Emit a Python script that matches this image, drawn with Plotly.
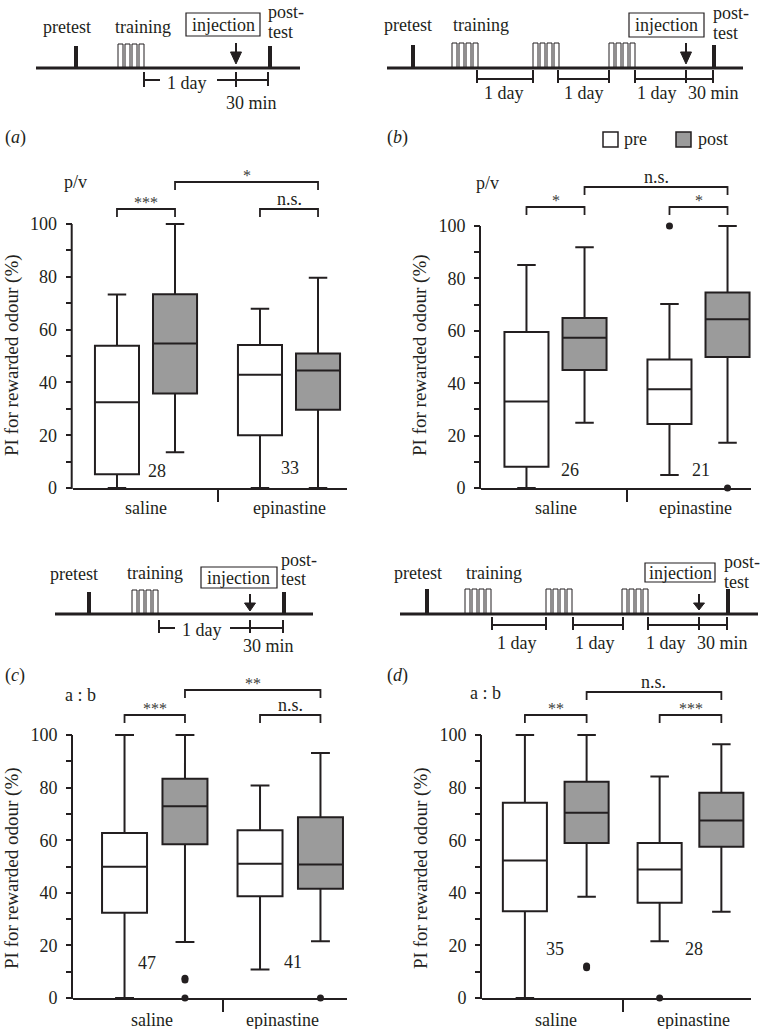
import plotly.graph_objects as go

# ---------------- data ----------------
categories = ["saline", "epinastine"]
conditions = ["pre", "post"]
# order of boxes in each panel: saline-pre, saline-post, epinastine-pre, epinastine-post
A_Q1 = [5.2, 35.8, 20.0, 29.6]
A_MED = [32.5, 54.7, 42.9, 44.5]
A_Q3 = [53.9, 73.4, 54.2, 50.9]
A_LO = [0.0, 13.5, 0.0, 0.0]
A_HI = [73.3, 100.0, 67.9, 79.6]
A_OUT = [[], [], [], []]
A_N = [28, 33]
A_SIG = ["***", "n.s.", "*"]

B_Q1 = [8.1, 45.0, 24.4, 50.0]
B_MED = [33.0, 57.3, 37.7, 64.4]
B_Q3 = [59.5, 64.9, 49.0, 74.6]
B_LO = [0.0, 24.9, 5.0, 17.3]
B_HI = [85.1, 91.9, 70.2, 100.0]
B_OUT = [[], [], [100.0], [0.0]]
B_N = [26, 21]
B_SIG = ["*", "*", "n.s."]

C_Q1 = [32.4, 58.5, 38.7, 41.5]
C_MED = [49.9, 72.9, 51.0, 50.8]
C_Q3 = [62.7, 83.4, 63.8, 68.7]
C_LO = [0.0, 21.3, 10.8, 21.6]
C_HI = [100.0, 100.0, 80.8, 93.2]
C_OUT = [[], [7.5, 6.8, 0.0], [], [0.0]]
C_N = [47, 41]
C_SIG = ["***", "n.s.", "**"]

D_Q1 = [33.0, 58.9, 36.2, 57.5]
D_MED = [52.3, 70.4, 48.9, 67.5]
D_Q3 = [74.2, 82.2, 58.9, 78.0]
D_LO = [0.0, 38.5, 21.6, 32.8]
D_HI = [100.0, 100.0, 84.2, 96.5]
D_OUT = [[], [11.5, 12.2], [0.0], []]
D_N = [35, 28]
D_SIG = ["**", "***", "n.s."]

MEASURES = ["p/v", "p/v", "a : b", "a : b"]
PANEL_LETTERS = ["a", "b", "c", "d"]
Y_TICKS = [0, 20, 40, 60, 80, 100]
Y_MINOR = [10, 30, 50, 70, 90]
Y_TITLE = "PI for rewarded odour (%)"

# ---------------- styling / layout ----------------
W, H = 760, 1029
INK = "#231f20"
GREY = "#9b9b9b"
FONT = "Liberation Serif, Times New Roman, Times, serif"

def X(p):
    return p / W

def Y(p):
    return 1 - p / H

shapes = []
ann = []

def seg(x0, y0, x1, y1, w=2):
    shapes.append(dict(type="line", xref="paper", yref="paper", x0=X(x0), y0=Y(y0),
                       x1=X(x1), y1=Y(y1), line=dict(color=INK, width=w)))

def rect(x0, y0, x1, y1, w=1, fill="white"):
    shapes.append(dict(type="rect", xref="paper", yref="paper", x0=X(x0), y0=Y(y0),
                       x1=X(x1), y1=Y(y1), fillcolor=fill, line=dict(color=INK, width=w)))

def tri(xc, ytop, ytip, half):
    path = "M %f,%f L %f,%f L %f,%f Z" % (X(xc - half), Y(ytop), X(xc + half), Y(ytop), X(xc), Y(ytip))
    shapes.append(dict(type="path", xref="paper", yref="paper", path=path,
                       fillcolor=INK, line=dict(color=INK, width=1)))

def txt(x, y, s, size=18, xa="center", ya="middle", angle=0, color=INK, xref="paper", yref="paper"):
    if xref == "paper":
        x = X(x)
    if yref == "paper":
        y = Y(y)
    ann.append(dict(x=x, y=y, xref=xref, yref=yref, text=s, showarrow=False,
                    xanchor=xa, yanchor=ya, textangle=angle,
                    font=dict(family=FONT, size=size, color=color)))

# panel geometry in pixels
GEOM = [
    dict(L=72.7, R=347, y0=488, y100=224, c1=146.0, unit=143.0, off=0.203, bw=0.308,
         br=(209, 182), meas=(75, 182), letter=(3, 137), ytitle=(12, 355), catY=508, catX=[1.0, 2.0],
         nlab=[(1.08, 6.4), (2.01, 7.6)]),
    dict(L=481, R=751, y0=488, y100=226, c1=555.5, unit=143.0, off=0.203, bw=0.308,
         br=(207, 187), meas=(487, 183), letter=(385, 137), ytitle=(420, 355), catY=508, catX=[1.0, 1.98],
         nlab=[(1.10, 6.9), (2.02, 6.9)]),
    dict(L=73, R=347, y0=998, y100=735, c1=154.75, unit=135.5, off=0.223, bw=0.332,
         br=(715, 690), meas=(80, 695), letter=(3, 675), ytitle=(12, 868), catY=1020, catX=[0.98, 1.94],
         nlab=[(0.943, 13.3), (2.02, 13.7)]),
    dict(L=482, R=751, y0=998, y100=735, c1=555.75, unit=134.75, off=0.229, bw=0.327,
         br=(715, 692), meas=(485, 693), letter=(385, 675), ytitle=(421, 868), catY=1020, catX=[1.0, 2.02],
         nlab=[(0.995, 18.6), (2.026, 18.6)]),
]

DATA = [
    (A_Q1, A_MED, A_Q3, A_LO, A_HI, A_OUT, A_N, A_SIG),
    (B_Q1, B_MED, B_Q3, B_LO, B_HI, B_OUT, B_N, B_SIG),
    (C_Q1, C_MED, C_Q3, C_LO, C_HI, C_OUT, C_N, C_SIG),
    (D_Q1, D_MED, D_Q3, D_LO, D_HI, D_OUT, D_N, D_SIG),
]

fig = go.Figure()
layout_axes = {}

for i, (g, d) in enumerate(zip(GEOM, DATA)):
    n = i + 1
    xa = "x" if n == 1 else "x%d" % n
    ya = "y" if n == 1 else "y%d" % n
    q1, med, q3, lo, hi, outs, ns, sig = d
    positions = []
    for ci, cat in enumerate(categories):
        for ki, cond in enumerate(conditions):
            positions.append((ci + 1) + (-g["off"] if ki == 0 else g["off"]))
    for b in range(4):
        fill = "white" if b % 2 == 0 else GREY
        fig.add_trace(go.Box(x=[positions[b]], q1=[q1[b]], median=[med[b]], q3=[q3[b]],
                             lowerfence=[lo[b]], upperfence=[hi[b]], width=g["bw"],
                             fillcolor=fill, line=dict(color=INK, width=2), whiskerwidth=0.42,
                             boxpoints=False, showlegend=False, hoverinfo="skip",
                             xaxis=xa, yaxis=ya, orientation="v"))
        if outs[b]:
            fig.add_trace(go.Scatter(x=[positions[b]] * len(outs[b]), y=outs[b], mode="markers",
                                     marker=dict(color=INK, size=7), cliponaxis=False,
                                     showlegend=False, hoverinfo="skip", xaxis=xa, yaxis=ya))
    r0 = 1 - (g["c1"] - g["L"]) / g["unit"]
    r1 = 1 + (g["R"] - g["c1"]) / g["unit"]
    top_px = g["y0"] - (g["y0"] - g["y100"]) * 1.01
    xkey = "xaxis" if n == 1 else "xaxis%d" % n
    ykey = "yaxis" if n == 1 else "yaxis%d" % n
    layout_axes[xkey] = dict(domain=[X(g["L"]), X(g["R"])], range=[r0, r1], anchor=ya,
                             showline=True, linecolor=INK, linewidth=2, automargin=False,
                             tickmode="array", tickvals=[1.5], ticktext=[""], ticks="outside",
                             ticklen=12, tickwidth=2, tickcolor=INK, showgrid=False, zeroline=False)
    layout_axes[ykey] = dict(domain=[Y(g["y0"]), Y(top_px)], range=[0, 101], anchor=xa,
                             showline=False, tickmode="array", tickvals=Y_TICKS, automargin=False,
                             ticks="outside", ticklen=6, tickwidth=2, tickcolor=INK,
                             minor=dict(tickmode="array", tickvals=Y_MINOR, ticks="outside",
                                        ticklen=6, tickwidth=2, tickcolor=INK, showgrid=False),
                             tickfont=dict(family=FONT, size=18, color=INK),
                             ticklabelstandoff=5, showgrid=False, zeroline=False)
    # y-axis line from 0 to 100
    seg(g["L"] - 1, g["y0"] + 1, g["L"] - 1, g["y100"], w=2)

    def xpx(v, g=g):
        return g["c1"] + (v - 1) * g["unit"]

    # significance brackets
    lower, upper = g["br"]
    pairs = [(positions[0], positions[1], lower, sig[0]),
             (positions[2], positions[3], lower, sig[1]),
             (positions[1], positions[3], upper, sig[2])]
    for (p0, p1, yb, s) in pairs:
        x0, x1 = xpx(p0), xpx(p1)
        seg(x0, yb, x1, yb, w=1.8)
        seg(x0, yb - 0.9, x0, yb + 8, w=1.8)
        seg(x1, yb - 0.9, x1, yb + 8, w=1.8)
        if s == "n.s.":
            txt((x0 + x1) / 2, yb - 10, s, size=18)
        else:
            txt((x0 + x1) / 2, yb + 4, s, size=16, ya="bottom", color="#3a3a3a")
    # labels
    for ci, cat in enumerate(categories):
        txt(g["catX"][ci], g["catY"], cat, size=18, xref=xa)
        txt(g["nlab"][ci][0], g["nlab"][ci][1], str(ns[ci]), size=18, xref=xa, yref=ya)
    txt(g["meas"][0], g["meas"][1], MEASURES[i], size=18)
    txt(g["letter"][0], g["letter"][1], "(<i>%s</i>)" % PANEL_LETTERS[i], size=18, xa="left")
    txt(g["ytitle"][0], g["ytitle"][1], Y_TITLE, size=19, angle=-90)

# legend (panel b)
rect(603, 132, 618, 147, w=1.5, fill="white")
rect(676, 132, 691, 147, w=1.5, fill=GREY)
txt(622, 139, "pre", xa="left")
txt(696, 139, "post", xa="left")

# ---------------- timelines (schematic) ----------------
TIMELINES = [
    dict(main=(36, 300, 68), pre=76, post=270, bar_top=46, train=[118], pulse_top=44,
         arrow=(236, 43, 64), inj=(186, 13, 260, 36),
         lab_pre=(67, 27), lab_train=(143, 27), lab_post=(266, 12, 32),
         segs=[(144, 160, 80), (217, 268, 80)], ticks=[(144, 72, 87), (236, 72, 87), (268, 72, 86)],
         texts=[("1 day", 187, 83), ("30 min", 252, 103)]),
    dict(main=(387, 743, 68), pre=413, post=714, bar_top=45, train=[452, 533, 609], pulse_top=43,
         arrow=(686, 43, 64), inj=(629, 13, 704, 37),
         lab_pre=(408, 25), lab_train=(481, 25), lab_post=(711, 13, 33),
         segs=[(477, 533, 79), (558, 609, 79), (635, 713, 79)],
         ticks=[(x, 70, 83) for x in (477, 533, 558, 609, 635, 686, 713)],
         texts=[("1 day", 504, 93), ("1 day", 584, 93), ("1 day", 657, 93), ("30 min", 713, 93)]),
    dict(main=(55, 313, 614), pre=89, post=284, bar_top=592, train=[132], pulse_top=590,
         arrow=(250, 594, 611), inj=(201, 567, 277, 588),
         lab_pre=(74, 574), lab_train=(155, 573), lab_post=(279, 560, 579),
         segs=[(159, 175, 628), (230, 283, 628)], ticks=[(159, 620, 633), (250, 620, 633), (283, 620, 633)],
         texts=[("1 day", 202, 630), ("30 min", 268, 646)]),
    dict(main=(400, 758, 614), pre=427, post=728, bar_top=589, train=[465, 546, 622], pulse_top=589,
         arrow=(699, 594, 610), inj=(645, 563, 715, 582),
         lab_pre=(418, 573), lab_train=(494, 573), lab_post=(722, 562, 582),
         segs=[(492, 546, 625), (573, 623, 625), (648, 727, 625)],
         ticks=[(x, 617, 630) for x in (492, 546, 573, 623, 648, 699, 727)],
         texts=[("1 day", 517, 643), ("1 day", 595, 643), ("1 day", 666, 643), ("30 min", 722, 643)]),
]

for t in TIMELINES:
    x0, x1, yl = t["main"]
    for gx in t["train"]:
        for k in range(4):
            rect(gx + 7 * k, t["pulse_top"], gx + 7 * k + 5, yl, w=1, fill="white")
    seg(x0, yl, x1, yl, w=3)
    seg(t["pre"], t["bar_top"], t["pre"], yl, w=4)
    seg(t["post"], t["bar_top"], t["post"], yl, w=4)
    ax, atop, atip = t["arrow"]
    seg(ax, atop, ax, atop + 10, w=2)
    tri(ax, atop + 9, atip, 5.5)
    ix0, iy0, ix1, iy1 = t["inj"]
    rect(ix0, iy0, ix1, iy1, w=1.2, fill="white")
    txt((ix0 + ix1) / 2, (iy0 + iy1) / 2, "injection")
    txt(t["lab_pre"][0], t["lab_pre"][1], "pretest")
    txt(t["lab_train"][0], t["lab_train"][1], "training")
    txt(t["lab_post"][0], t["lab_post"][1], "post-", xa="left")
    txt(t["lab_post"][0], t["lab_post"][2], "test", xa="left")
    for (sx0, sx1, sy) in t["segs"]:
        seg(sx0, sy, sx1, sy, w=2)
    for (tx, ty0, ty1) in t["ticks"]:
        seg(tx, ty0, tx, ty1, w=2)
    for (s, tx, ty) in t["texts"]:
        txt(tx, ty, s)

fig.update_layout(width=W, height=H, autosize=False,
                  margin=dict(l=0, r=0, t=0, b=0, pad=0),
                  paper_bgcolor="white", plot_bgcolor="white",
                  showlegend=False, shapes=shapes, annotations=ann,
                  font=dict(family=FONT, color=INK), **layout_axes)

fig.write_html("out.html", config={"displayModeBar": False, "staticPlot": True},
               post_script="document.body.style.margin='0px';document.body.style.overflow='hidden';")
